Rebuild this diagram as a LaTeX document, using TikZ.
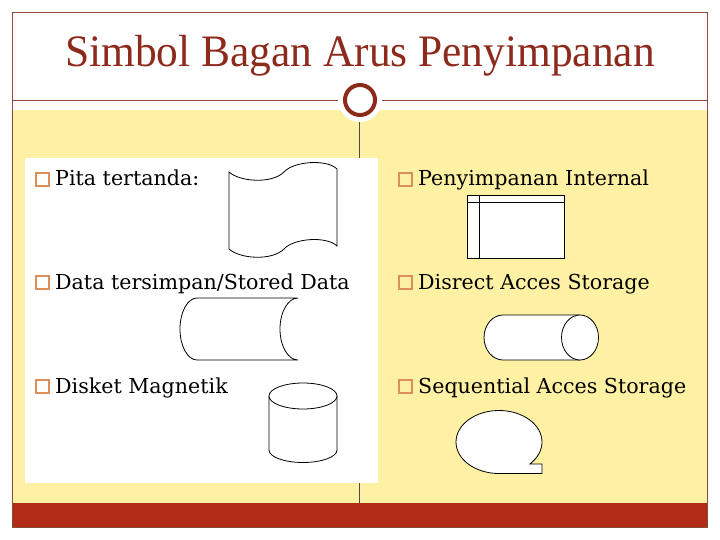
\documentclass[tikz,border=0pt]{standalone}
\usepackage{fontspec}
\setmainfont{DejaVu Serif}
\newfontfamily\titlefont[FakeStretch=0.965]{Liberation Serif}
\usepackage{xcolor}

\definecolor{titlered}{HTML}{8C2A1C}
\definecolor{framebrown}{HTML}{8A4A3A}
\definecolor{paleyellow}{HTML}{FFF1A3}
\definecolor{barred}{HTML}{B12B16}
\definecolor{bulletorange}{HTML}{DC9058}

\tikzset{
  item/.style={anchor=base west, inner sep=0pt, font=\fontsize{20.6}{24}\selectfont},
  bullet/.style={draw=bulletorange, line width=1.8pt, minimum size=12.5pt, inner sep=0pt},
  symbol/.style={draw=black, fill=white, line width=0.8pt}
}

\begin{document}
\begin{tikzpicture}[x=1pt, y=-1pt]
\useasboundingbox (0,0) rectangle (720,540);

% slide background
\fill[paleyellow] (12,110) rectangle (707,503);
\fill[barred] (12,503) rectangle (707,527);
\draw[framebrown, line width=0.8pt] (12,12) rectangle (707,527);
\draw[framebrown, line width=0.8pt] (12,100) -- (707,100);
\draw[black!70, line width=0.6pt] (359,110) -- (359,503);
\fill[white] (25,158) rectangle (378,483);

\fill[white] (360,100) circle (22);
\node[circle, draw=titlered, fill=white, line width=4pt, minimum size=30pt] (ring) at (360,100) {};

\node[anchor=base, text=titlered, font=\titlefont\fontsize{45}{50}\selectfont] (title) at (360,67) {Simbol Bagan Arus Penyimpanan};

% items
\node[item] (pita) at (55,186) {Pita tertanda:};
\node[item] (stored) at (55,289) {Data tersimpan/Stored Data};
\node[item] (disket) at (55,393) {Disket Magnetik};
\node[item] (internal) at (418,186) {Penyimpanan Internal};
\node[item] (direct) at (418,289) {Disrect Acces Storage};
\node[item] (sequential) at (418,393) {Sequential Acces Storage};

\node[bullet] (b1) at (42.5,179.5) {};
\node[bullet] (b2) at (42.5,282.5) {};
\node[bullet] (b3) at (42.5,386.5) {};
\node[bullet] (b4) at (405.5,179.5) {};
\node[bullet] (b5) at (405.5,282.5) {};
\node[bullet] (b6) at (405.5,386.5) {};

% punched tape
\draw[symbol] (229,172) .. controls (240,182) and (272,184) .. (284,172)
  .. controls (294,161) and (327,159) .. (337,169) -- (337,246)
  .. controls (327,236) and (294,238) .. (284,249)
  .. controls (272,261) and (240,259) .. (229,249) -- cycle;

% stored data
\draw[symbol] (298,298) -- (197,298)
  arc[start angle=270, end angle=90, x radius=17, y radius=31] -- (298,360)
  arc[start angle=90, end angle=270, x radius=18, y radius=31];

% magnetic disk
\draw[symbol] (269,396) -- (269,450)
  arc[start angle=180, end angle=0, x radius=34, y radius=12.5] -- (337,396);
\draw[symbol] (303,396) ellipse[x radius=34, y radius=13];

% internal storage
\draw[symbol, line width=1pt] (467,196) rectangle (564,258);
\draw[line width=1pt] (467,203) -- (564,203);
\draw[line width=1pt] (479,196) -- (479,258);

% direct access storage
\draw[symbol] (580,315) -- (503,315)
  arc[start angle=270, end angle=90, x radius=19, y radius=22.5] -- (580,360);
\draw[symbol] (580,337.5) ellipse[x radius=18.5, y radius=22.5];

% sequential access storage
\draw[symbol] (499,473.5)
  arc[start angle=90, end angle=404, x radius=43, y radius=31.5]
  -- (542,464) -- (542,473.5) -- cycle;

\end{tikzpicture}
\end{document}
